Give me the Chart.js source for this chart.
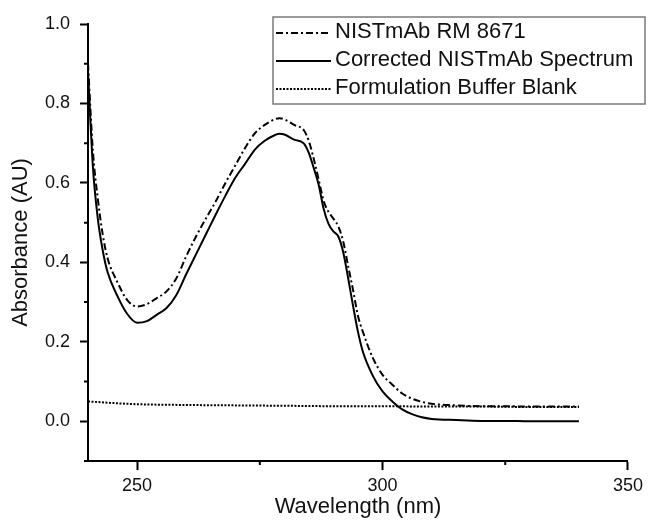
<!DOCTYPE html>
<html>
<head>
<meta charset="utf-8">
<script src="https://cdn.jsdelivr.net/npm/chart.js@4/dist/chart.umd.min.js"></script>
<style>
  html, body { margin: 0; padding: 0; background: #fff; }
  #wrap { width: 648px; height: 520px; }
</style>
</head>
<body>
<div id="wrap"><canvas id="specChart" width="648" height="520"></canvas></div>
<script>
// wavelengths (nm) and absorbance
const wavelengths = [240, 241, 242, 243, 244, 246, 248, 250, 252, 254, 256, 258, 260, 262, 264, 266, 268, 270,
  272, 274, 276, 278, 279, 280, 282, 284, 285, 286, 287, 288, 289, 290, 291, 292, 293, 294, 295, 296, 298,
  300, 302, 304, 306, 308, 310, 315, 320, 325, 330, 335, 340];

const sampleAbs = [0.90, 0.68, 0.56, 0.47, 0.41, 0.35, 0.305, 0.289, 0.295, 0.31, 0.327, 0.36, 0.415, 0.465, 0.51, 0.553, 0.60, 0.644,
  0.688, 0.725, 0.746, 0.76, 0.763, 0.76, 0.746, 0.732, 0.705, 0.66, 0.608, 0.555, 0.527, 0.51, 0.49, 0.452, 0.39, 0.33, 0.265, 0.225, 0.16,
  0.117, 0.092, 0.07, 0.057, 0.049, 0.044, 0.04, 0.038, 0.038, 0.037, 0.037, 0.037];

const correctedAbs = [0.88, 0.64, 0.51, 0.43, 0.375, 0.315, 0.27, 0.248, 0.252, 0.268, 0.285, 0.318, 0.37, 0.42, 0.47, 0.52, 0.568, 0.613,
  0.648, 0.684, 0.706, 0.72, 0.724, 0.722, 0.709, 0.699, 0.675, 0.637, 0.595, 0.535, 0.497, 0.478, 0.465, 0.425, 0.36, 0.29, 0.225, 0.175, 0.115,
  0.075, 0.05, 0.03, 0.018, 0.01, 0.006, 0.003, 0.001, 0.001, 0.0, 0.0, 0.0];

const blankWavelengths = [240, 245, 250, 260, 270, 280, 290, 300, 310, 320, 330, 340];
const blankAbs = [0.050, 0.046, 0.043, 0.041, 0.040, 0.039, 0.038, 0.038, 0.037, 0.037, 0.036, 0.036];

const seriesLabels = ['NISTmAb RM 8671', 'Corrected NISTmAb Spectrum', 'Formulation Buffer Blank'];

const FONT = 'Liberation Sans, Arial, sans-serif';

function toPoints(xs, ys) {
  return xs.map((x, i) => ({ x: x, y: ys[i] }));
}

// minor ticks are shorter than the labelled ones
const minorTicks = {
  id: 'minorTicks',
  afterDraw(chart) {
    const ctx = chart.ctx;
    const xs = chart.scales.x, ys = chart.scales.y;
    ctx.save();
    ctx.strokeStyle = '#000';
    ctx.lineWidth = 2;
    ctx.beginPath();
    for (const t of xs.ticks) {
      if (t.value % 50 === 0) continue;
      const px = xs.getPixelForValue(t.value);
      ctx.moveTo(px, xs.top);
      ctx.lineTo(px, xs.top + 4);
    }
    for (const t of ys.ticks) {
      if (Math.round(t.value * 10) % 2 === 0) continue;
      const py = ys.getPixelForValue(t.value);
      ctx.moveTo(ys.right, py);
      ctx.lineTo(ys.right - 4, py);
    }
    ctx.stroke();
    ctx.restore();
  }
};

// boxed legend in the top right, like the original
const boxLegend = {
  id: 'boxLegend',
  afterDraw(chart) {
    const ctx = chart.ctx;
    const box = { left: 273, top: 17, right: 645, bottom: 104 };
    const rows = [33, 61, 89];
    ctx.save();
    ctx.fillStyle = '#fff';
    ctx.fillRect(box.left, box.top, box.right - box.left, box.bottom - box.top);
    ctx.strokeStyle = '#7a7a7a';
    ctx.lineWidth = 1.5;
    ctx.strokeRect(box.left, box.top, box.right - box.left, box.bottom - box.top);
    chart.data.datasets.forEach((ds, i) => {
      ctx.beginPath();
      ctx.setLineDash(ds.borderDash || []);
      ctx.strokeStyle = ds.borderColor;
      ctx.lineWidth = ds.borderWidth;
      ctx.moveTo(276, rows[i]);
      ctx.lineTo(331, rows[i]);
      ctx.stroke();
      ctx.setLineDash([]);
      ctx.fillStyle = '#111';
      ctx.font = '22px ' + FONT;
      ctx.textBaseline = 'middle';
      ctx.fillText(ds.label, 335, rows[i] - 1);
    });
    ctx.restore();
  }
};

const ctx = document.getElementById('specChart').getContext('2d');
new Chart(ctx, {
  type: 'line',
  data: {
    datasets: [
      {
        label: seriesLabels[0],
        data: toPoints(wavelengths, sampleAbs),
        borderColor: '#000',
        borderWidth: 2,
        borderDash: [7, 3, 2, 3],
        pointRadius: 0,
        cubicInterpolationMode: 'monotone'
      },
      {
        label: seriesLabels[1],
        data: toPoints(wavelengths, correctedAbs),
        borderColor: '#000',
        borderWidth: 2,
        pointRadius: 0,
        cubicInterpolationMode: 'monotone'
      },
      {
        label: seriesLabels[2],
        data: toPoints(blankWavelengths, blankAbs),
        borderColor: '#000',
        borderWidth: 2,
        borderDash: [2, 1.5],
        pointRadius: 0,
        cubicInterpolationMode: 'monotone'
      }
    ]
  },
  options: {
    responsive: false,
    animation: false,
    layout: { padding: { left: 0, right: 18, top: 24, bottom: 0 } },
    plugins: {
      legend: { display: false },
      tooltip: { enabled: false }
    },
    scales: {
      x: {
        type: 'linear',
        min: 240,
        max: 350,
        afterFit: s => { s.height = 59; },
        border: { color: '#000', width: 2 },
        grid: {
          drawOnChartArea: false,
          tickLength: 9,
          tickWidth: 2,
          tickColor: c => (c.tick && c.tick.value % 50 === 0 ? '#000' : 'rgba(0,0,0,0)')
        },
        ticks: {
          stepSize: 25,
          includeBounds: false,
          autoSkip: false,
          maxRotation: 0,
          padding: 5,
          color: '#111',
          font: { family: FONT, size: 18 },
          callback: v => (v % 50 === 0 ? String(v) : '')
        },
        title: {
          display: true,
          text: 'Wavelength (nm)',
          color: '#111',
          font: { family: FONT, size: 22 },
          padding: { top: 0, bottom: 0 }
        }
      },
      y: {
        min: -0.1,
        max: 1.0,
        afterFit: s => { s.width = 88; },
        border: { color: '#000', width: 2 },
        grid: {
          drawOnChartArea: false,
          tickLength: 8,
          tickWidth: 2,
          tickColor: c => (c.tick && Math.round(c.tick.value * 10) % 2 === 0 ? '#000' : 'rgba(0,0,0,0)')
        },
        ticks: {
          stepSize: 0.1,
          autoSkip: false,
          padding: 10,
          color: '#111',
          font: { family: FONT, size: 18 },
          callback: v => (Math.round(v * 10) % 2 === 0 ? v.toFixed(1) : '')
        },
        title: {
          display: true,
          text: 'Absorbance (AU)',
          color: '#111',
          font: { family: FONT, size: 22 },
          padding: { top: 8, bottom: 0 }
        }
      }
    }
  },
  plugins: [minorTicks, boxLegend]
});
</script>
</body>
</html>
